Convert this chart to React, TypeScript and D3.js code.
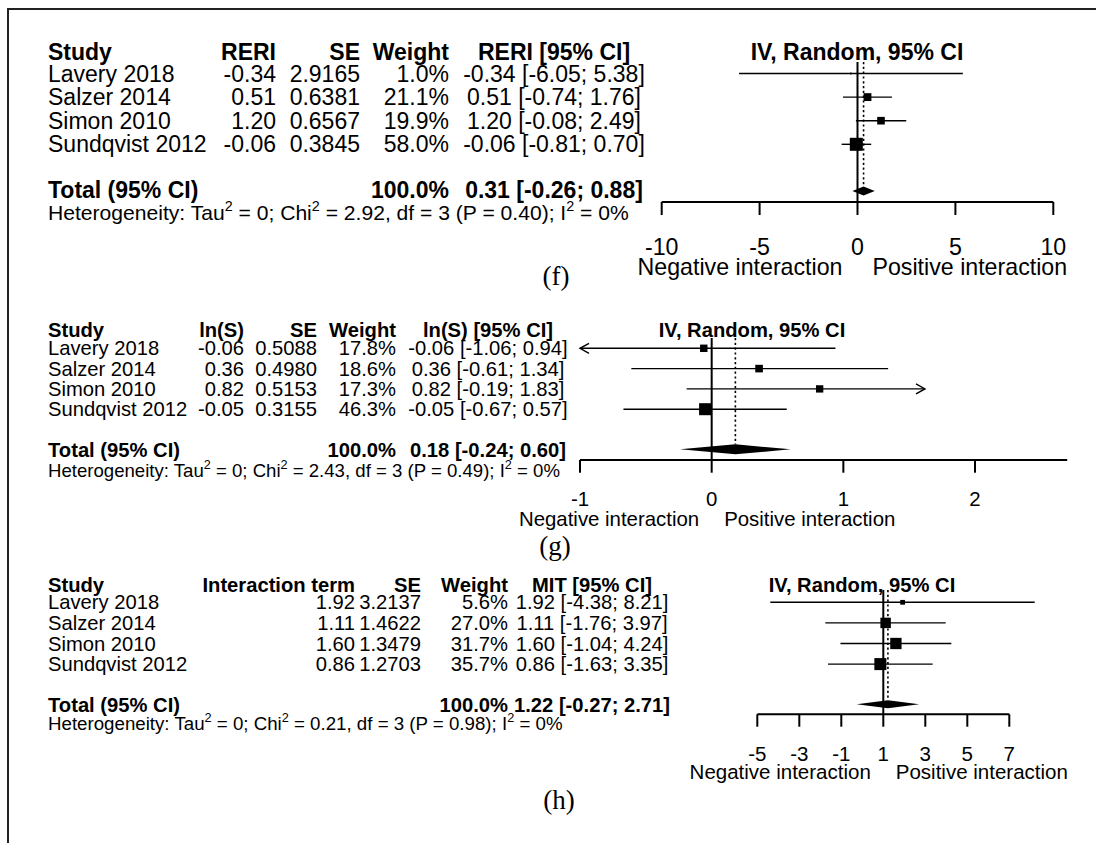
import React from "react";
import * as d3 from "d3";

const STUDIES = ["Lavery 2018", "Salzer 2014", "Simon 2010", "Sundqvist 2012"];

// (f) RERI
const F_EST = [-0.34, 0.51, 1.2, -0.06];
const F_SE = [2.9165, 0.6381, 0.6567, 0.3845];
const F_WEIGHT = [1.0, 21.1, 19.9, 58.0];
const F_LOWER = [-6.05, -0.74, -0.08, -0.81];
const F_UPPER = [5.38, 1.76, 2.49, 0.7];
const F_TOTAL = [0.31, -0.26, 0.88];
const F_HET = [0, 2.92, 3, 0.4, 0];
const F_TICKS = [-10, -5, 0, 5, 10];

// (g) ln(S)
const G_EST = [-0.06, 0.36, 0.82, -0.05];
const G_SE = [0.5088, 0.498, 0.5153, 0.3155];
const G_WEIGHT = [17.8, 18.6, 17.3, 46.3];
const G_LOWER = [-1.06, -0.61, -0.19, -0.67];
const G_UPPER = [0.94, 1.34, 1.83, 0.57];
const G_TOTAL = [0.18, -0.24, 0.6];
const G_HET = [0, 2.43, 3, 0.49, 0];
const G_TICKS = [-1, 0, 1, 2];

// (h) MIT
const H_EST = [1.92, 1.11, 1.6, 0.86];
const H_SE = [3.2137, 1.4622, 1.3479, 1.2703];
const H_WEIGHT = [5.6, 27.0, 31.7, 35.7];
const H_LOWER = [-4.38, -1.76, -1.04, -1.63];
const H_UPPER = [8.21, 3.97, 4.24, 3.35];
const H_TOTAL = [1.22, -0.27, 2.71];
const H_HET = [0, 0.21, 3, 0.98, 0];
const H_TICKS = [-5, -3, -1, 1, 3, 5, 7];

const SANS = "'Liberation Sans', Arial, Helvetica, sans-serif";
const SERIF = "'Liberation Serif', 'Times New Roman', serif";

type PanelCfg = {
  est: number[]; se: number[]; weight: number[]; lower: number[]; upper: number[];
  total: number[]; het: number[]; ticks: number[];
  estHeader: string; ciHeader: string;
  fs: number; hfs: number; afs: number;
  cStudy: number; cEst: number; cSe: number; cW: number; cCi: number;
  headerY: number; rowY0: number; rowDy: number; textDy: number;
  totalY: number; totalTextY: number; hetY: number;
  domain: [number, number]; range: [number, number]; nullVal: number;
  clip?: [number, number];
  axisY: number; tickLen: number; tickLabelY: number; labelY: number; labelGap: number;
  plotHeaderX: number; boxK: number; diamondHalf: number; nullTop: number;
  label: string; labelX: number; labelY2: number;
};

const fmt2 = (v: number) => v.toFixed(2);
const ciText = (e: number, l: number, u: number) => `${fmt2(e)} [${fmt2(l)}; ${fmt2(u)}]`;

function Panel({ c }: { c: PanelCfg }) {
  const x = d3.scaleLinear().domain(c.domain).range(c.range);
  const rows = STUDIES.map((s, i) => c.rowY0 + i * c.rowDy);
  const sup = c.hfs * 0.42;
  const supFs = c.hfs * 0.68;
  const lo = c.clip ? c.clip[0] : -Infinity;
  const hi = c.clip ? c.clip[1] : Infinity;
  const [te, tl, tu] = c.total;
  const ty = c.totalY;
  const dh = c.diamondHalf;
  return (
    <g>
      {/* Table header */}
      <g fontFamily={SANS} fontSize={c.fs} fontWeight="bold">
        <text x={c.cStudy} y={c.headerY}>Study</text>
        <text x={c.cEst} y={c.headerY} textAnchor="end">{c.estHeader}</text>
        <text x={c.cSe} y={c.headerY} textAnchor="end">SE</text>
        <text x={c.cW} y={c.headerY} textAnchor="end">Weight</text>
        <text x={c.cCi} y={c.headerY} textAnchor="middle">{c.ciHeader}</text>
        <text x={c.plotHeaderX} y={c.headerY} textAnchor="middle">IV, Random, 95% CI</text>
      </g>
      {/* Rows */}
      <g fontFamily={SANS} fontSize={c.fs}>
        {STUDIES.map((s, i) => (
          <g key={s}>
            <text x={c.cStudy} y={rows[i] + c.textDy}>{s}</text>
            <text x={c.cEst} y={rows[i] + c.textDy} textAnchor="end">{fmt2(c.est[i])}</text>
            <text x={c.cSe} y={rows[i] + c.textDy} textAnchor="end">{c.se[i].toFixed(4)}</text>
            <text x={c.cW} y={rows[i] + c.textDy} textAnchor="end">{c.weight[i].toFixed(1) + "%"}</text>
            <text x={c.cCi} y={rows[i] + c.textDy} textAnchor="middle">{ciText(c.est[i], c.lower[i], c.upper[i])}</text>
          </g>
        ))}
      </g>
      {/* Total */}
      <g fontFamily={SANS} fontSize={c.fs} fontWeight="bold">
        <text x={c.cStudy} y={c.totalTextY}>Total (95% CI)</text>
        <text x={c.cW} y={c.totalTextY} textAnchor="end">{d3.sum(c.weight).toFixed(1) + "%"}</text>
        <text x={c.cCi} y={c.totalTextY} textAnchor="middle">{ciText(te, tl, tu)}</text>
      </g>
      <text x={c.cStudy} y={c.hetY} fontFamily={SANS} fontSize={c.hfs}>
        {"Heterogeneity: Tau"}
        <tspan dy={-sup} fontSize={supFs}>2</tspan>
        <tspan dy={sup}>{` = ${c.het[0]}; Chi`}</tspan>
        <tspan dy={-sup} fontSize={supFs}>2</tspan>
        <tspan dy={sup}>{` = ${fmt2(c.het[1])}, df = ${c.het[2]} (P = ${fmt2(c.het[3])}); I`}</tspan>
        <tspan dy={-sup} fontSize={supFs}>2</tspan>
        <tspan dy={sup}>{` = ${c.het[4]}%`}</tspan>
      </text>

      {/* Plot */}
      <line x1={x(c.nullVal)} x2={x(c.nullVal)} y1={c.nullTop} y2={c.axisY} stroke="#000" strokeWidth={2} />
      <line x1={x(te)} x2={x(te)} y1={c.nullTop} y2={ty - dh} stroke="#000" strokeWidth={1.6} strokeDasharray="2.2,2.6" />
      {STUDIES.map((s, i) => {
        const y = rows[i];
        const l = Math.max(c.lower[i], lo);
        const u = Math.min(c.upper[i], hi);
        const side = c.boxK * Math.sqrt(c.weight[i]);
        return (
          <g key={s}>
            <line x1={x(l)} x2={x(u)} y1={y} y2={y} stroke="#000" strokeWidth={1.4} />
            {c.lower[i] < lo && (
              <polyline points={`${x(lo) + 9},${y - 5} ${x(lo)},${y} ${x(lo) + 9},${y + 5}`} fill="none" stroke="#000" strokeWidth={1.4} />
            )}
            {c.upper[i] > hi && (
              <polyline points={`${x(hi) - 9},${y - 5} ${x(hi)},${y} ${x(hi) - 9},${y + 5}`} fill="none" stroke="#000" strokeWidth={1.4} />
            )}
            <rect x={x(c.est[i]) - side / 2} y={y - side / 2} width={side} height={side} fill="#000" />
          </g>
        );
      })}
      <polygon
        points={`${x(tl)},${ty} ${x(te)},${ty - dh} ${x(tu)},${ty} ${x(te)},${ty + dh}`}
        fill="#000"
      />
      {/* Axis */}
      <line x1={x(c.domain[0])} x2={x(c.domain[1])} y1={c.axisY} y2={c.axisY} stroke="#000" strokeWidth={2} />
      {c.ticks.map((t) => (
        <g key={t}>
          <line x1={x(t)} x2={x(t)} y1={c.axisY} y2={c.axisY + c.tickLen} stroke="#000" strokeWidth={2} />
          <text x={x(t)} y={c.tickLabelY} textAnchor="middle" fontFamily={SANS} fontSize={c.afs}>{t}</text>
        </g>
      ))}
      <text x={x(c.nullVal) - c.labelGap} y={c.labelY} textAnchor="end" fontFamily={SANS} fontSize={c.afs}>Negative interaction</text>
      <text x={x(c.nullVal) + c.labelGap} y={c.labelY} fontFamily={SANS} fontSize={c.afs}>Positive interaction</text>
      <text x={c.labelX} y={c.labelY2} textAnchor="middle" fontFamily={SERIF} fontSize={27}>{c.label}</text>
    </g>
  );
}

const PANEL_F: PanelCfg = {
  est: F_EST, se: F_SE, weight: F_WEIGHT, lower: F_LOWER, upper: F_UPPER,
  total: F_TOTAL, het: F_HET, ticks: F_TICKS,
  estHeader: "RERI", ciHeader: "RERI [95% CI]",
  fs: 23, hfs: 21.1, afs: 23.2,
  cStudy: 48, cEst: 276, cSe: 360, cW: 449, cCi: 554,
  headerY: 60, rowY0: 73.5, rowDy: 23.6, textDy: 8,
  totalY: 191, totalTextY: 198, hetY: 220,
  domain: [-10, 10], range: [661.7, 1053.3], nullVal: 0,
  axisY: 202, tickLen: 13, tickLabelY: 254.5, labelY: 275, labelGap: 15,
  plotHeaderX: 857, boxK: 13 / Math.sqrt(58), diamondHalf: 4.5, nullTop: 62,
  label: "(f)", labelX: 556, labelY2: 285,
};

const PANEL_G: PanelCfg = {
  est: G_EST, se: G_SE, weight: G_WEIGHT, lower: G_LOWER, upper: G_UPPER,
  total: G_TOTAL, het: G_HET, ticks: G_TICKS,
  estHeader: "ln(S)", ciHeader: "ln(S) [95% CI]",
  fs: 20.2, hfs: 18.6, afs: 20.4,
  cStudy: 48, cEst: 244, cSe: 317, cW: 396, cCi: 488,
  headerY: 337, rowY0: 348.3, rowDy: 20.3, textDy: 7,
  totalY: 449.3, totalTextY: 457, hetY: 476.5,
  domain: [-1, 2.7], range: [580, 1067.2], nullVal: 0, clip: [-1, 1.62],
  axisY: 460, tickLen: 12.7, tickLabelY: 505.5, labelY: 525.5, labelGap: 12.5,
  plotHeaderX: 752, boxK: 12 / Math.sqrt(46.3), diamondHalf: 5, nullTop: 338,
  label: "(g)", labelX: 555, labelY2: 555,
};

const PANEL_H: PanelCfg = {
  est: H_EST, se: H_SE, weight: H_WEIGHT, lower: H_LOWER, upper: H_UPPER,
  total: H_TOTAL, het: H_HET, ticks: H_TICKS,
  estHeader: "Interaction term", ciHeader: "MIT [95% CI]",
  fs: 20.2, hfs: 18.7, afs: 20.5,
  cStudy: 48, cEst: 355, cSe: 421, cW: 508, cCi: 592,
  headerY: 592, rowY0: 602.3, rowDy: 20.6, textDy: 7,
  totalY: 704.3, totalTextY: 711.5, hetY: 729.5,
  domain: [-5, 7], range: [757.3, 1009.3], nullVal: 1,
  axisY: 714.3, tickLen: 12.4, tickLabelY: 760.5, labelY: 779, labelGap: 12.5,
  plotHeaderX: 862, boxK: 12 / Math.sqrt(35.7), diamondHalf: 4, nullTop: 590,
  label: "(h)", labelX: 559, labelY2: 809,
};

export default function App() {
  return (
    <svg
      width={1098}
      height={843}
      viewBox="0 0 1098 843"
      style={{ position: "absolute", left: 0, top: 0, background: "#fff" }}
    >
      <rect x={0} y={0} width={1098} height={843} fill="#fff" />
      <line x1={7} x2={1096} y1={9} y2={9} stroke="#222" strokeWidth={2} />
      <line x1={8} x2={8} y1={9} y2={843} stroke="#222" strokeWidth={2} />
      <Panel c={PANEL_F} />
      <Panel c={PANEL_G} />
      <Panel c={PANEL_H} />
    </svg>
  );
}
